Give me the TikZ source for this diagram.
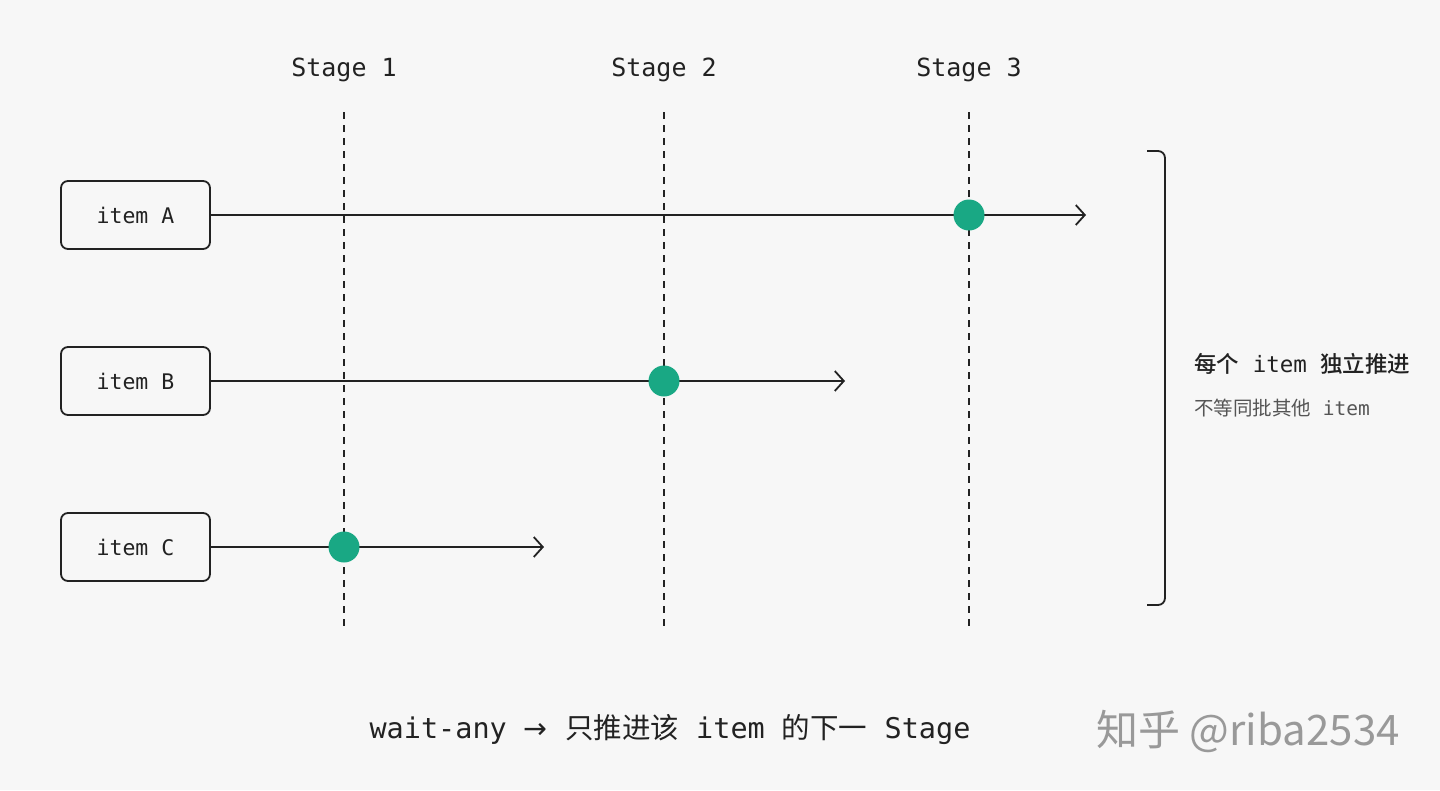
\documentclass[tikz,border=0pt]{standalone}
\usepackage{fontspec}
\setmainfont{DejaVu Sans Mono}
\setmonofont{DejaVu Sans Mono}
\newfontfamily\cjk{Noto Sans CJK SC}
\newfontfamily\cjkb{Noto Sans CJK SC Medium}
\newfontfamily\symb{DejaVu Sans}
\usetikzlibrary{arrows.meta}
\definecolor{bg}{HTML}{F7F7F7}
\definecolor{ink}{HTML}{222222}
\definecolor{dotgreen}{HTML}{19A884}
\definecolor{subgray}{HTML}{555555}
\tikzset{
  itembox/.style={draw=ink, line width=1.8pt, rounded corners=7pt, minimum width=149pt, minimum height=68pt, inner sep=0pt, font=\fontsize{21.5}{25}\selectfont, text=ink},
  stagelabel/.style={font=\fontsize{25}{29}\selectfont, text=ink, inner sep=0pt},
  stageline/.style={draw=ink, line width=1.3pt, dash pattern=on 7pt off 6pt},
  flow/.style={draw=ink, line width=1.8pt, -{Straight Barb[length=9pt,width=20pt,line width=1.8pt]}},
  reached/.style={circle, fill=dotgreen, minimum size=31pt, inner sep=0pt},
}
\begin{document}
\begin{tikzpicture}[x=1pt,y=-1pt]
\useasboundingbox[fill=bg] (0,0) rectangle (1440,790);
% stage labels
\node[stagelabel] (s1) at (344,70) {Stage 1};
\node[stagelabel] (s2) at (664,70) {Stage 2};
\node[stagelabel] (s3) at (969,70) {Stage 3};
% stage lines
\coordinate (s1t) at (344,112); \coordinate (s1b) at (344,632);
\coordinate (s2t) at (664,112); \coordinate (s2b) at (664,632);
\coordinate (s3t) at (969,112); \coordinate (s3b) at (969,632);
\draw[stageline] (s1t) -- (s1b);
\draw[stageline] (s2t) -- (s2b);
\draw[stageline] (s3t) -- (s3b);
% items
\node[itembox] (a) at (135.5,215) {item A};
\node[itembox] (b) at (135.5,381) {item B};
\node[itembox] (c) at (135.5,547) {item C};
\coordinate (ae) at (1086,215);
\coordinate (be) at (845,381);
\coordinate (ce) at (544,547);
\draw[flow] (a) -- (ae);
\draw[flow] (b) -- (be);
\draw[flow] (c) -- (ce);
% dots
\node[reached] (da) at (969,215) {};
\node[reached] (db) at (664,381) {};
\node[reached] (dc) at (344,547) {};
% bracket
\coordinate (bt) at (1147,151);
\coordinate (bb) at (1147,605);
\draw[ink, line width=1.8pt, rounded corners=7pt] (bt) -- (1165,151) -- (1165,605) -- (bb);
% right text
\node[anchor=west, inner sep=0pt, text=ink, font=\fontsize{22.5}{27}\selectfont] (t1) at (1194,364) {{\cjkb 每个} item {\cjkb 独立推进}};
\node[anchor=west, inner sep=0pt, text=subgray, font=\fontsize{19.5}{23}\selectfont] (t2) at (1194,408) {{\cjk 不等同批其他} item};
% bottom caption
\node[inner sep=0pt, text=ink, font=\fontsize{28.5}{33}\selectfont] (cap) at (670,730) {wait-any {\symb →} {\cjk 只推进该} item {\cjk 的下一} Stage};
% watermark
\node[inner sep=0pt, text=black!40, font=\cjk\fontsize{42}{48}\selectfont] (wm) at (1248,731) {知乎 @riba2534};
\end{tikzpicture}
\end{document}
